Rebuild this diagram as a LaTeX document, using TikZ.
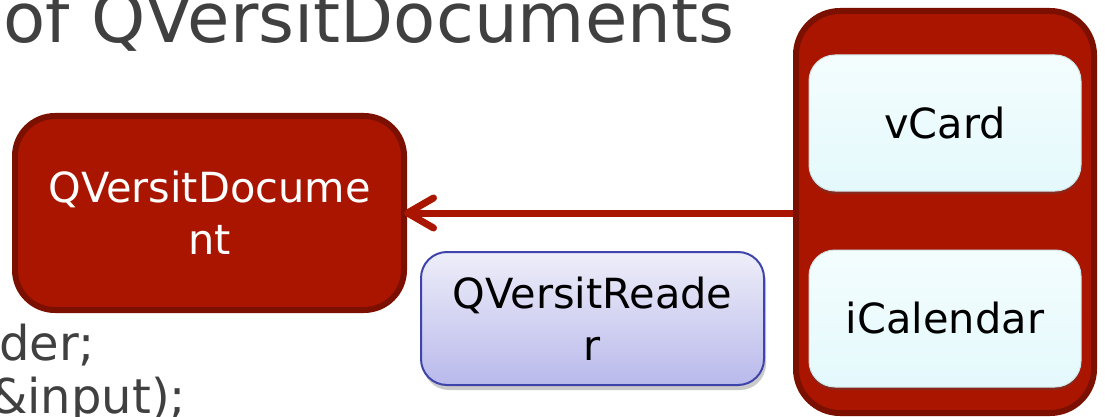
\documentclass[tikz,border=0pt]{standalone}
\usepackage{fontspec}
\setmainfont{DejaVu Sans}
\usetikzlibrary{arrows.meta,shadows,positioning}
\definecolor{qred}{HTML}{AA1500}
\definecolor{qdark}{HTML}{7C1000}
\definecolor{qgray}{HTML}{404040}
\definecolor{qblueT}{HTML}{EEEEF9}
\definecolor{qblueB}{HTML}{B9B9EC}
\definecolor{qblueD}{HTML}{3E44AA}
\definecolor{qcyanT}{HTML}{F4FDFE}
\definecolor{qcyanB}{HTML}{E4F9FC}
\definecolor{qcyanD}{HTML}{CFE6EA}
\tikzset{
  redbox/.style={draw=qdark, line width=6pt, fill=qred, rounded corners=40pt, inner sep=0pt,
    text=white, align=center, font=\fontsize{41.5}{52}\selectfont},
  readerbox/.style={draw=qblueD, line width=2pt, top color=qblueT, bottom color=qblueB,
    rounded corners=26pt, inner sep=0pt, align=center, font=\fontsize{41.5}{52}\selectfont,
    drop shadow={shadow xshift=2pt, shadow yshift=-5pt, opacity=0.35, fill=black!60}},
  formatbox/.style={draw=qcyanD, line width=1pt, top color=qcyanT, bottom color=qcyanB,
    rounded corners=26pt, inner sep=0pt, align=center, font=\fontsize{41.5}{52}\selectfont,
    drop shadow={shadow xshift=0pt, shadow yshift=-3pt, opacity=0.35, fill=black!70}},
  graytext/.style={text=qgray, inner sep=0pt, anchor=base west},
  conn/.style={draw=qred, line width=7pt, shorten >=-3pt,
    -{Straight Barb[length=26pt, width=30pt, line width=7pt, round]}},
}
\begin{document}
\begin{tikzpicture}[x=1pt,y=-1pt]
\useasboundingbox (0,0) rectangle (1105,417);
\node[graytext, font=\fontsize{69}{80}\selectfont] (title) at (3,43) {of QVersitDocuments};
\node[graytext, font=\fontsize{48}{58}\selectfont] (code1) at (-1,360) {der;};
\node[graytext, font=\fontsize{48}{58}\selectfont] (code2) at (-10,413) {\&input);};
\node[redbox, minimum width=389pt, minimum height=194pt] (doc) at (209.5,213) {QVersitDocume\\nt};
\node[redbox, rounded corners=44pt, minimum width=298pt, minimum height=402pt, drop shadow={shadow xshift=0pt, shadow yshift=-3pt, opacity=0.2}] (formats) at (945,212) {};
\node[formatbox, minimum width=272pt, minimum height=136pt] (vcard) at (945,123) {vCard};
\node[formatbox, minimum width=272pt, minimum height=137pt] (ical) at (945,318.5) {iCalendar};
\node[readerbox, minimum width=343pt, minimum height=133pt] (reader) at (592.5,318.5) {QVersitReade\\r};
\draw[conn] (formats.west |- doc.east) -- (doc.east);
\end{tikzpicture}
\end{document}
